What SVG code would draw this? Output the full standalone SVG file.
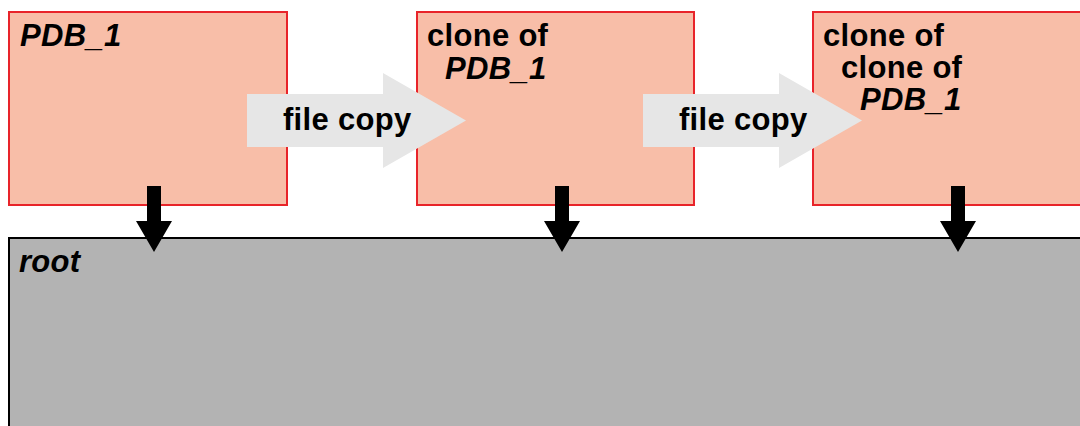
<svg xmlns="http://www.w3.org/2000/svg" width="1080" height="426" viewBox="0 0 1080 426">
<style>
.pdb{fill:#f8bea8;stroke:#e8242a;stroke-width:2}
.root{fill:#b3b3b3;stroke:#000;stroke-width:2}
.t{font-family:"Liberation Sans",Arial,sans-serif;font-weight:bold;font-size:31px;letter-spacing:0.3px;fill:#000}
.i{font-style:italic}
.copy{fill:#e6e6e6}
.down{fill:#000}
</style>
<rect width="1080" height="426" fill="#fff"/>
<g id="root">
<rect class="root" x="9" y="238" width="1090" height="200"/>
<text class="t i" x="19" y="272">root</text>
</g>
<g id="pdb1">
<rect class="pdb" x="9" y="12" width="278" height="193"/>
<text class="t i" x="20" y="46">PDB_1</text>
</g>
<g id="clone1">
<rect class="pdb" x="417" y="12" width="277" height="193"/>
<text class="t" x="427" y="46">clone of</text>
<text class="t i" x="445" y="79">PDB_1</text>
</g>
<g id="clone2">
<rect class="pdb" x="813" y="12" width="280" height="193"/>
<text class="t" x="823" y="46">clone of</text>
<text class="t" x="841" y="78">clone of</text>
<text class="t i" x="860" y="110">PDB_1</text>
</g>
<g id="connectors">
<g id="copy1">
<polygon class="copy" points="247,94 383,94 383,73 466,120.5 383,168 383,147 247,147"/>
<text class="t" x="283" y="130">file copy</text>
</g>
<g id="copy2">
<polygon class="copy" points="643,94 779,94 779,73 862,120.5 779,168 779,147 643,147"/>
<text class="t" x="679" y="130">file copy</text>
</g>
<polygon class="down" points="147,186 161,186 161,221 172,221 154,252 136,221 147,221"/>
<polygon class="down" points="555,186 569,186 569,221 580,221 562,252 544,221 555,221"/>
<polygon class="down" points="951,186 965,186 965,221 976,221 958,252 940,221 951,221"/>
</g>
</svg>
